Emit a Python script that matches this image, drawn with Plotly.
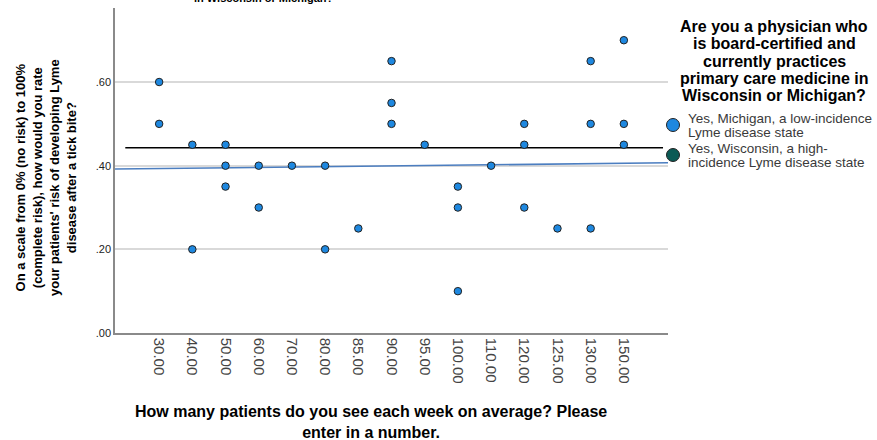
import plotly.graph_objects as go

# ---- data ----
categories = ["30.00", "40.00", "50.00", "60.00", "70.00", "80.00", "85.00", "90.00",
              "95.00", "100.00", "110.00", "120.00", "125.00", "130.00", "150.00"]
# Michigan points: category label and risk rating
mi_cat = ["30.00", "30.00", "40.00", "40.00", "50.00", "50.00", "50.00", "60.00", "60.00",
          "70.00", "80.00", "80.00", "85.00", "90.00", "90.00", "90.00", "95.00",
          "100.00", "100.00", "100.00", "110.00", "120.00", "120.00", "120.00",
          "125.00", "130.00", "130.00", "130.00", "150.00", "150.00", "150.00"]
mi_risk = [0.60, 0.50, 0.45, 0.20, 0.45, 0.40, 0.35, 0.40, 0.30,
           0.40, 0.40, 0.20, 0.25, 0.65, 0.55, 0.50, 0.45,
           0.35, 0.30, 0.10, 0.40, 0.50, 0.45, 0.30,
           0.25, 0.65, 0.50, 0.25, 0.70, 0.50, 0.45]
fit_x_ends = [-1.33, 15.33]
fit_y_ends = [0.392, 0.407]
ref_x_ends = [-1.02, 15.18]
ref_value = 0.443
y_ticks = [0.0, 0.2, 0.4, 0.6]
y_ticklabels = [".00", ".20", ".40", ".60"]
legend_title_lines = ["Are you a physician who", "is board-certified and", "currently practices",
                      "primary care medicine in", "Wisconsin or Michigan?"]
series_names = ["Yes, Michigan, a low-incidence<br>Lyme disease state",
                "Yes, Wisconsin, a high-<br>incidence Lyme disease state"]

idx = {c: i for i, c in enumerate(categories)}
mi_x = [idx[c] for c in mi_cat]

FONT = "Liberation Sans, Arial, sans-serif"
BLUE = "#1E88E0"
TEAL = "#0B5A55"
series_colors = [BLUE, TEAL]

W, H = 877, 440
ML, MR, MT, MB = 115, 209, 8, 107
PW, PH = W - ML - MR, H - MT - MB


def px_to_paper(xp, yp):
    return (xp - ML) / PW, (H - MB - yp) / PH


fig = go.Figure()
fig.add_trace(go.Scatter(x=fit_x_ends, y=fit_y_ends, mode="lines",
                         line=dict(color="#4C7EC0", width=1.6),
                         showlegend=False, hoverinfo="skip"))
fig.add_trace(go.Scatter(x=ref_x_ends, y=[ref_value, ref_value], mode="lines",
                         line=dict(color="black", width=1.6),
                         showlegend=False, hoverinfo="skip"))
fig.add_trace(go.Scatter(x=mi_x, y=mi_risk, mode="markers",
                         name=series_names[0], showlegend=False,
                         marker=dict(color=BLUE, size=7.5, line=dict(color="#222", width=1))))
fig.add_trace(go.Scatter(x=[None], y=[None], mode="markers",
                         name=series_names[1], showlegend=False,
                         marker=dict(color=TEAL, size=7.5, line=dict(color="#222", width=1))))

annotations = []
shapes = []
yx, yy = px_to_paper(46, 178)
annotations.append(dict(
    text="On a scale from 0% (no risk) to 100%<br>(complete risk), how would you rate<br>"
         "your patients' risk of developing Lyme<br>disease after a tick bite?",
    xref="paper", yref="paper", x=yx, y=yy, textangle=-90,
    xanchor="center", yanchor="middle", showarrow=False,
    font=dict(size=13, color="black", family=FONT, weight="bold")))
xx, xy = px_to_paper(371, 422)
annotations.append(dict(
    text="How many patients do you see each week on average? Please<br>enter in a number.",
    xref="paper", yref="paper", x=xx, y=xy,
    xanchor="center", yanchor="middle", showarrow=False,
    font=dict(size=16, color="black", family=FONT, weight="bold")))
# legend title, one line at a time for tight SPSS-like spacing
for i, line in enumerate(legend_title_lines):
    lx, ly = px_to_paper(774, 27 + 17 * i)
    annotations.append(dict(
        text=line, xref="paper", yref="paper", x=lx, y=ly,
        xanchor="center", yanchor="middle", showarrow=False,
        font=dict(size=16, color="black", family=FONT, weight="bold")))
# legend items: circle + two text lines each
for k, (name, col) in enumerate(zip(series_names, series_colors)):
    cy = 125 + 30 * k
    cx_p, cy_p = px_to_paper(673, cy)
    shapes.append(dict(type="circle", xref="paper", yref="paper",
                       xsizemode="pixel", ysizemode="pixel",
                       xanchor=cx_p, yanchor=cy_p, x0=-6.5, x1=6.5, y0=-6.5, y1=6.5,
                       fillcolor=col, line=dict(color="#222", width=1)))
    for j, part in enumerate(name.split("<br>")):
        tx_p, ty_p = px_to_paper(686, cy - 7 + 14.5 * j)
        annotations.append(dict(
            text=part, xref="paper", yref="paper", x=tx_p, y=ty_p,
            xanchor="left", yanchor="middle", showarrow=False,
            font=dict(size=13.5, color="#3a3a3a", family=FONT)))
tx, ty = px_to_paper(264, 5.5)
annotations.append(dict(
    text="in Wisconsin or Michigan?", xref="paper", yref="paper", x=tx, y=ty,
    xanchor="center", yanchor="bottom", showarrow=False,
    font=dict(size=11, color="black", family=FONT, weight="bold")))

fig.update_layout(
    width=W, height=H,
    margin=dict(l=ML, r=MR, t=MT, b=MB),
    plot_bgcolor="white", paper_bgcolor="white",
    font=dict(family=FONT, size=11, color="#333"),
    showlegend=False,
    xaxis=dict(range=[-1.33, 15.33], tickvals=list(range(len(categories))),
               ticktext=categories, tickangle=90, showgrid=False, zeroline=False,
               showline=True, linecolor="#8a8a8a", linewidth=1.5, ticks="",
               tickfont=dict(size=15, color="#444")),
    yaxis=dict(range=[0, 0.777], tickvals=y_ticks, ticktext=y_ticklabels,
               showgrid=True, gridcolor="#d9d9d9", gridwidth=2, zeroline=False,
               showline=True, linecolor="#8a8a8a", linewidth=1.5, ticks="",
               tickfont=dict(size=11, color="#222")),
    annotations=annotations,
    shapes=shapes,
)

fig.write_html("out.html", config={"displayModeBar": False},
               post_script="document.body.style.margin='0px';")
